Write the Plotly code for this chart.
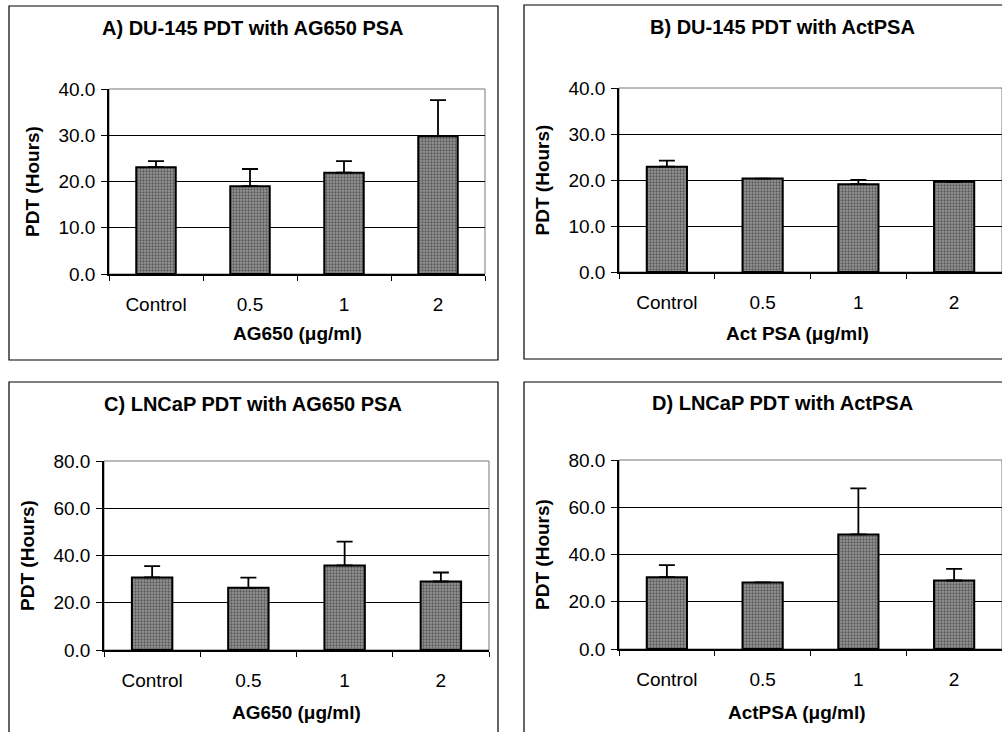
import plotly.graph_objects as go

W, H = 1002, 732

categories = ["Control", "0.5", "1", "2"]

# Panel values (PDT hours) and upper error-bar lengths
a_values = [23.1, 19.0, 21.9, 29.8]
a_errors = [1.3, 3.7, 2.5, 7.8]
b_values = [22.9, 20.3, 19.1, 19.6]
b_errors = [1.3, 0.0, 0.9, 0.0]
c_values = [30.7, 26.3, 35.8, 29.0]
c_errors = [4.8, 4.3, 10.1, 3.8]
d_values = [30.4, 28.2, 48.5, 29.0]
d_errors = [5.1, 0.0, 19.5, 4.9]

titles = ["A) DU-145 PDT with AG650 PSA", "B) DU-145 PDT with ActPSA",
          "C) LNCaP PDT with AG650 PSA", "D) LNCaP PDT with ActPSA"]
xtitles = ["AG650 (\u03bcg/ml)", "Act PSA (\u03bcg/ml)", "AG650 (\u03bcg/ml)", "ActPSA (\u03bcg/ml)"]
ytitle = "PDT (Hours)"
y_max = [40, 40, 80, 80]
y_step = [10, 10, 20, 20]

# layout in pixels: plot area (left, right, top, bottom), frame (l, r, t, b), title y, xtitle y
plots = [(109, 485, 89, 274), (619, 1002, 88, 272), (104, 489, 461, 650), (619, 1002, 460, 649)]
frames = [(9, 498, 6, 360), (524, 1010, 5, 359), (9, 498, 382, 740), (524, 1010, 382, 740)]
title_y = [28, 27, 404, 403]
xtitle_y = [333, 333, 712, 712]
title_x = [253, 782, 253, 782]

def px(x):
    return x / W

def py(y):
    return 1 - y / H

fig = go.Figure()
data = [(a_values, a_errors), (b_values, b_errors), (c_values, c_errors), (d_values, d_errors)]
font_family = "Liberation Sans, Arial, sans-serif"
shapes = []
annotations = []

for i, (vals, errs) in enumerate(data):
    n = "" if i == 0 else str(i + 1)
    fig.add_trace(go.Bar(
        x=categories, y=vals, width=0.42,
        xaxis="x" + n, yaxis="y" + n,
        marker=dict(color="#787878", line=dict(color="black", width=2),
                    pattern=dict(shape=".", fgcolor="#1c1c1c", bgcolor="#969696",
                                 size=3, solidity=0.45)),
        error_y=dict(type="data", array=errs, arrayminus=[0] * len(errs), symmetric=False,
                     color="black", thickness=1.8, width=8),
        showlegend=False, hoverinfo="skip",
    ))
    l, r, t, b = plots[i]
    fig.layout["xaxis" + n] = dict(
        domain=[px(l), px(r)], anchor="y" + n, type="category", automargin=False,
        tickson="boundaries", ticks="outside", ticklen=5, tickcolor="black",
        showline=True, linecolor="black", linewidth=1.5,
        tickfont=dict(family=font_family, size=19, color="black"),
        ticklabelstandoff=12,
        showgrid=False, fixedrange=True,
    )
    fig.layout["yaxis" + n] = dict(
        domain=[py(b), py(t)], anchor="x" + n, range=[0, y_max[i]], automargin=False,
        tickmode="linear", tick0=0, dtick=y_step[i], tickformat=".1f",
        ticks="outside", ticklen=6, tickcolor="black",
        showline=True, linecolor="black", linewidth=1.5,
        showgrid=True, gridcolor="black", gridwidth=1,
        zeroline=False,
        tickfont=dict(family=font_family, size=19, color="black"),
        ticklabelstandoff=2,
        fixedrange=True,
        title=dict(text="<b>" + ytitle + "</b>", standoff=14,
                   font=dict(family=font_family, size=19, color="black")),
    )
    # plot-area border (top/right)
    shapes.append(dict(type="rect", xref="paper", yref="paper",
                       x0=px(l), x1=px(r), y0=py(b), y1=py(t),
                       line=dict(color="#777777", width=1), layer="below"))
    fl, fr, ft, fb = frames[i]
    shapes.append(dict(type="rect", xref="paper", yref="paper",
                       x0=px(fl), x1=px(fr), y0=py(fb), y1=py(ft),
                       line=dict(color="black", width=1.2), layer="below"))
    annotations.append(dict(text="<b>" + titles[i] + "</b>", xref="paper", yref="paper",
                            x=px(title_x[i]), y=py(title_y[i]),
                            xanchor="center", yanchor="middle", showarrow=False,
                            font=dict(family=font_family, size=20, color="black")))
    annotations.append(dict(text="<b>" + xtitles[i] + "</b>", xref="paper", yref="paper",
                            x=px((l + r) / 2) if i % 2 == 0 else px(797), y=py(xtitle_y[i]),
                            xanchor="center", yanchor="middle", showarrow=False,
                            font=dict(family=font_family, size=19, color="black")))

fig.update_layout(
    width=W, height=H,
    margin=dict(l=0, r=0, t=0, b=0, pad=0, autoexpand=False),
    paper_bgcolor="white", plot_bgcolor="rgba(0,0,0,0)",
    shapes=shapes, annotations=annotations,
    bargap=0.58,
)

fig.write_html("out.html", config={"displayModeBar": False},
               post_script="document.body.style.margin='0';document.body.style.overflow='hidden';")
